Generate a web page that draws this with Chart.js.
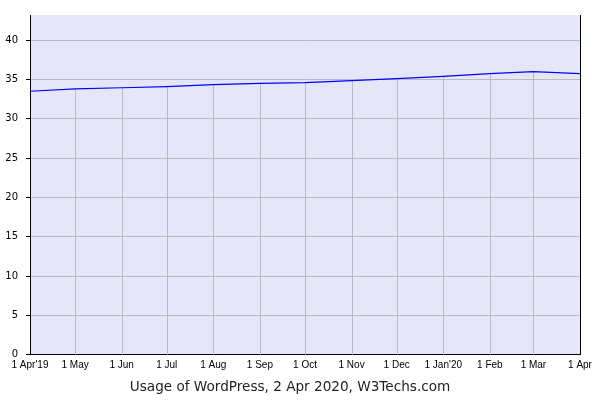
<!DOCTYPE html>
<html>
<head>
<meta charset="utf-8">
<script src="https://cdn.jsdelivr.net/npm/chart.js@4"></script>
<style>
  html, body { margin: 0; padding: 0; background: #fff; }
</style>
</head>
<body>
<canvas id="usageChart" width="600" height="400"></canvas>
<script>
// days since 1 Apr 2019 for each monthly sample
const dayOffsets = [0, 30, 61, 91, 122, 153, 183, 214, 244, 275, 306, 335, 366];
const monthLabels = ["1 Apr'19", '1 May', '1 Jun', '1 Jul', '1 Aug', '1 Sep', '1 Oct', '1 Nov', '1 Dec', "1 Jan'20", '1 Feb', '1 Mar', '1 Apr'];
// WordPress usage, percent of websites
const usageValues = [33.5, 33.8, 33.95, 34.1, 34.35, 34.5, 34.6, 34.85, 35.1, 35.4, 35.75, 36.0, 35.75];
const yTicks = [0, 5, 10, 15, 20, 25, 30, 35, 40];

// lavender plot background + drop lines from each point + right border
const plotDecor = {
    id: 'plotDecor',
    beforeDraw(chart) {
        const a = chart.chartArea;
        const ctx = chart.ctx;
        ctx.save();
        ctx.fillStyle = '#e6e6fa';
        ctx.fillRect(a.left, a.top, a.right - a.left, a.bottom - a.top);
        ctx.restore();
    },
    beforeDatasetsDraw(chart) {
        const a = chart.chartArea;
        const ctx = chart.ctx;
        const xs = chart.scales.x;
        const ys = chart.scales.y;
        ctx.save();
        ctx.strokeStyle = '#bbbbbb';
        ctx.lineWidth = 1;
        dayOffsets.forEach((d, i) => {
            if (i === 0 || i === dayOffsets.length - 1) return;
            const px = Math.round(xs.getPixelForValue(d)) + 0.5;
            ctx.beginPath();
            ctx.moveTo(px, ys.getPixelForValue(usageValues[i]));
            ctx.lineTo(px, a.bottom);
            ctx.stroke();
        });
        ctx.restore();
    },
    afterDraw(chart) {
        const a = chart.chartArea;
        const ctx = chart.ctx;
        ctx.save();
        ctx.strokeStyle = '#000';
        ctx.lineWidth = 1;
        ctx.beginPath();
        ctx.moveTo(Math.round(a.right) + 0.5, a.top);
        ctx.lineTo(Math.round(a.right) + 0.5, a.bottom);
        ctx.stroke();
        ctx.restore();
    }
};

const ctx = document.getElementById('usageChart').getContext('2d');
new Chart(ctx, {
    type: 'line',
    data: {
        datasets: [{
            data: dayOffsets.map((d, i) => ({ x: d, y: usageValues[i] })),
            borderColor: '#0000ff',
            borderWidth: 1.2,
            pointRadius: 0,
            tension: 0,
            fill: false
        }]
    },
    options: {
        responsive: false,
        animation: false,
        layout: { padding: { top: 15, right: 20, left: 0, bottom: 0 } },
        plugins: {
            legend: { display: false },
            tooltip: { enabled: false },
            title: {
                display: true,
                position: 'bottom',
                text: 'Usage of WordPress, 2 Apr 2020, W3Techs.com',
                color: '#222',
                font: { family: 'DejaVu Sans', size: 13.6, weight: 'normal' },
                padding: { top: 3, bottom: 4 }
            }
        },
        scales: {
            x: {
                type: 'linear',
                min: 0,
                max: 366,
                afterBuildTicks: axis => { axis.ticks = dayOffsets.map(v => ({ value: v })); },
                ticks: {
                    autoSkip: false,
                    maxRotation: 0,
                    padding: 5,
                    color: '#000',
                    font: { family: 'Liberation Sans', size: 10 },
                    callback: (v) => monthLabels[dayOffsets.indexOf(v)]
                },
                grid: { display: false, drawTicks: false, tickLength: 0 },
                border: { display: true, color: '#000', width: 1 }
            },
            y: {
                min: 0,
                max: 43.2,
                afterBuildTicks: axis => { axis.ticks = yTicks.map(v => ({ value: v })); },
                afterFit: axis => { axis.width = 30; },
                ticks: {
                    padding: 8,
                    color: '#000',
                    font: { family: 'DejaVu Sans', size: 10 }
                },
                grid: {
                    color: '#bbbbbb',
                    tickColor: '#000',
                    tickLength: 4,
                    drawTicks: true
                },
                border: { display: true, color: '#000', width: 1 }
            }
        }
    },
    plugins: [plotDecor]
});
</script>
</body>
</html>
